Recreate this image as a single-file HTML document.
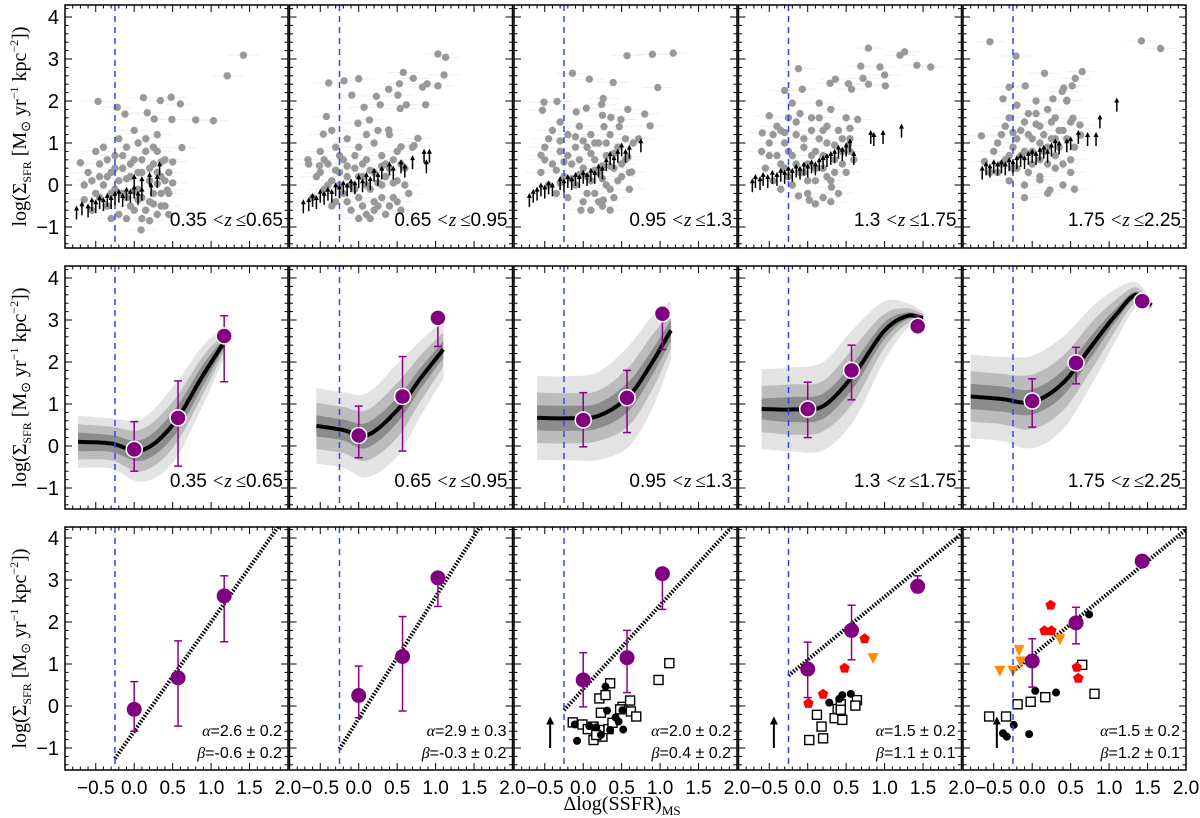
<!DOCTYPE html>
<html><head><meta charset="utf-8"><style>
html,body{margin:0;padding:0;background:#fff;}
svg{display:block;font-family:"Liberation Sans",sans-serif;}
.serif{font-family:"Liberation Serif",serif;}
</style></head><body>
<svg id="chart" width="1200" height="818" viewBox="0 0 1200 818" xmlns="http://www.w3.org/2000/svg"></svg>
<script>
// ---------- data ----------
const zLabels=["0.35","0.65","0.65","0.95","0.95","1.3","1.3","1.75","1.75","2.25"];
const xTicks=[-0.5,0.0,0.5,1.0,1.5,2.0];
const xTickLabels=["\u22120.5","0.0","0.5","1.0","1.5","2.0"];
const yTicks=[-1,0,1,2,3,4];
const yTickLabels=["\u22121","0","1","2","3","4"];
const msLine=-0.25;
// row 1 scatter (outliers + core)
const scat0=[[-0.70,0.53],[-0.47,1.99],[-0.22,1.85],[-0.12,1.69],[0.12,2.08],[0.34,2.01],[0.48,2.09],[0.6,1.93],[0.62,0.89],[0.5,0.05],[0.8,1.55],[1.03,1.53],[1.21,2.6],[1.42,3.09],[0.49,1.56],[0.26,1.57],[0.17,1.72],[0.43,-0.12],[0.09,-1.07],[0.3,0.03],
[-0.6,0.3],[-0.5,0.8],[-0.5,-0.2],[-0.45,0.5],[-0.4,0.0],[-0.4,0.9],[-0.35,-0.5],[-0.3,0.3],[-0.3,-0.2],[-0.25,0.7],[-0.2,1.1],[-0.2,0.1],[-0.2,-0.7],[-0.15,0.4],[-0.1,-0.3],[-0.1,0.9],[-0.05,0.2],[0.0,-0.6],[0.0,0.6],[0.0,1.3],[0.05,-0.1],[0.1,0.3],[0.1,-0.8],[0.15,0.8],[0.15,1.1],[0.2,-0.4],[0.2,0.1],[0.25,0.5],[0.3,-0.7],[0.3,0.8],[0.35,-0.2],[0.35,0.2],[0.4,0.6],[0.4,-0.5],[-0.55,-0.6],[-0.65,0.0],[-0.3,-0.8],[0.05,1.0],[0.45,-0.7],[0.3,1.2],[-0.1,-0.8],[0.25,-0.2],[0.45,0.3],[-0.35,0.6],
[-0.55,0.1],[-0.45,-0.3],[-0.35,0.2],[-0.25,-0.1],[-0.25,0.4],[-0.15,-0.2],[-0.15,0.7],[-0.05,-0.5],[-0.05,0.5],[0.05,0.3],[0.05,-0.35],[0.1,0.6],[0.15,-0.6],[0.2,0.4],[0.25,-0.45],[0.25,0.9],[0.3,0.3],[0.35,-0.5],[0.4,0.1],[0.45,-0.2],[0.5,0.55],[-0.65,-0.35],[-0.45,0.2],[0.0,-0.15],[0.1,-0.3],[0.2,-0.85],[0.35,0.55],[-0.1,0.15]];
const scat1=[[-0.39,2.43],[-0.19,2.48],[0.0,2.53],[-0.09,2.14],[0.23,2.11],[0.07,1.85],[0.28,1.91],[0.39,2.28],[0.53,2.41],[0.58,2.68],[0.71,2.54],[0.83,2.33],[0.89,2.41],[1.03,3.12],[1.13,3.04],[1.11,2.62],[1.03,2.36],[0.87,1.91],[0.51,2.14],[0.54,1.82],[0.62,1.91],[-0.42,1.63],[-0.46,1.21],[0.39,1.31],[0.77,1.11],[0.72,0.94],[0.55,0.91],[0.14,1.55],[-0.01,1.47],[-0.51,0.46],[-0.66,0.6],
[-0.6,-0.3],[-0.55,0.2],[-0.5,0.8],[-0.45,-0.1],[-0.4,0.5],[-0.35,0.1],[-0.3,-0.4],[-0.3,0.9],[-0.25,0.3],[-0.2,-0.2],[-0.2,0.6],[-0.15,1.1],[-0.1,0.0],[-0.1,-0.6],[-0.05,0.4],[0.0,0.9],[0.0,-0.3],[0.05,0.2],[0.1,-0.7],[0.1,0.6],[0.15,-0.1],[0.2,1.0],[0.2,0.3],[0.25,-0.5],[0.3,0.0],[0.3,0.7],[0.35,-0.7],[0.4,0.4],[0.4,1.2],[0.45,-0.3],[0.5,0.1],[0.5,0.8],[0.55,-0.6],[0.6,0.4],[0.65,-0.2],[-0.65,0.5],[0.15,-0.8],[0.25,1.3],[-0.35,1.3],[0.7,0.9],[0.0,-0.8],[0.2,-0.4],[0.35,0.2],[-0.15,0.45],
[-0.5,0.3],[-0.45,0.6],[-0.4,0.0],[-0.35,-0.5],[-0.25,0.0],[-0.25,0.7],[-0.15,-0.4],[-0.15,0.2],[-0.05,0.7],[-0.05,-0.1],[0.05,-0.5],[0.05,0.5],[0.1,1.2],[0.15,0.35],[0.2,-0.6],[0.25,0.05],[0.3,-0.3],[0.35,0.5],[0.4,-0.5],[0.45,0.05],[0.5,-0.4],[0.55,0.5],[0.6,0.0],[0.1,0.0],[0.3,0.45],[-0.3,0.35],[0.0,0.2],[0.45,0.6]];
const scat2=[[-0.14,2.66],[0.08,2.52],[0.39,2.44],[0.57,3.08],[0.9,3.11],[1.17,3.14],[0.97,2.32],[0.8,1.69],[0.87,1.41],[0.72,1.1],[0.58,1.8],[0.49,1.56],[0.63,0.31],[0.58,0.66],[-0.51,1.97],[-0.34,1.99],[-0.53,1.78],[-0.55,0.71],[-0.09,1.74],[0.04,1.83],[0.26,2.06],[0.24,1.92],[0.25,1.66],[0.27,1.39],[0.36,1.61],[0.47,1.39],[-0.03,-0.6],[0.26,-0.36],
[-0.55,0.3],[-0.5,0.9],[-0.45,0.0],[-0.4,1.3],[-0.4,0.5],[-0.35,-0.2],[-0.3,0.8],[-0.25,0.2],[-0.2,1.2],[-0.2,-0.3],[-0.15,0.5],[-0.1,0.9],[-0.1,0.0],[-0.05,1.4],[0.0,0.4],[0.0,-0.4],[0.05,0.9],[0.1,0.1],[0.1,1.2],[0.15,-0.2],[0.15,0.6],[0.2,0.3],[0.2,1.0],[0.25,-0.5],[0.3,0.7],[0.3,0.0],[0.35,1.2],[0.4,0.4],[0.4,-0.3],[0.45,0.9],[0.5,0.2],[0.55,0.6],[0.6,-0.1],[0.65,1.0],[-0.3,1.5],[0.1,-0.6],[0.35,-0.6],[-0.25,0.55],[0.25,0.15],
[-0.5,0.6],[-0.45,1.1],[-0.35,0.35],[-0.3,1.05],[-0.2,0.7],[-0.15,0.15],[-0.1,1.15],[-0.05,0.6],[0.0,1.05],[0.05,0.2],[0.05,-0.2],[0.1,0.75],[0.15,1.0],[0.2,-0.4],[0.25,0.45],[0.3,1.0],[0.35,-0.1],[0.4,0.75],[0.45,0.1],[0.5,0.5],[0.55,1.1],[0.6,0.3],[-0.3,0.05],[0.15,0.35],[-0.05,0.25],[0.35,0.45]];
const scat3=[[-0.12,2.77],[0.79,3.26],[1.2,3.09],[1.26,3.17],[1.42,2.85],[1.6,2.81],[0.69,2.83],[0.94,2.81],[1.0,2.62],[0.72,2.54],[0.79,2.4],[1.01,2.36],[0.36,2.52],[0.53,2.41],[0.57,2.28],[0.29,2.42],[-0.5,1.65],[-0.59,1.24],[-0.3,2.25],[-0.07,2.28],[0.65,1.56],[0.55,1.35],[0.53,0.95],[-0.12,-0.26],[0.02,-0.36],[0.31,-0.05],
[-0.55,0.4],[-0.5,1.0],[-0.45,0.1],[-0.4,0.7],[-0.4,1.4],[-0.35,-0.1],[-0.3,0.4],[-0.3,1.0],[-0.25,1.6],[-0.2,0.0],[-0.2,0.7],[-0.15,1.2],[-0.1,0.3],[-0.1,1.7],[-0.05,0.9],[0.0,-0.2],[0.0,0.5],[0.05,1.3],[0.1,0.1],[0.1,0.8],[0.15,1.6],[0.2,-0.3],[0.2,0.4],[0.25,1.0],[0.3,1.8],[0.3,0.1],[0.35,0.6],[0.4,1.3],[0.4,-0.2],[0.45,0.8],[0.5,0.3],[0.5,1.6],[0.55,1.1],[0.6,0.6],[-0.6,0.8],[0.1,-0.45],[0.3,-0.4],[-0.2,1.95],[0.15,1.95],
[-0.5,0.7],[-0.45,1.2],[-0.35,0.5],[-0.35,1.3],[-0.25,0.2],[-0.25,0.8],[-0.15,0.5],[-0.15,1.5],[-0.05,0.3],[-0.05,1.1],[0.05,0.7],[0.05,1.6],[0.1,0.4],[0.15,1.1],[0.2,0.7],[0.25,1.4],[0.25,0.2],[0.35,0.95],[0.35,0.3],[0.45,1.1],[0.45,0.5],[0.55,0.8],[0.0,0.1],[-0.3,1.25],[0.2,1.3]];
const scat4=[[-0.55,3.41],[-0.21,3.07],[1.42,3.43],[1.67,3.25],[0.16,2.66],[0.65,2.70],[0.56,2.54],[0.52,2.36],[0.41,2.31],[0.39,2.23],[0.27,2.05],[-0.09,2.36],[-0.3,2.33],[-0.38,2.05],[0.45,2.02],[0.63,1.19],[0.62,1.43],[0.53,1.59],[-0.66,1.17],[-0.62,0.56],[0.23,-0.12],[0.1,0.12],
[-0.5,0.8],[-0.45,0.3],[-0.4,1.2],[-0.35,0.6],[-0.3,1.6],[-0.3,0.1],[-0.25,0.9],[-0.2,1.9],[-0.2,0.4],[-0.15,1.3],[-0.1,0.0],[-0.1,0.8],[-0.05,1.7],[0.0,0.5],[0.0,1.1],[0.05,2.0],[0.1,0.2],[0.1,1.4],[0.15,0.8],[0.2,1.8],[0.2,-0.2],[0.25,1.1],[0.3,0.4],[0.3,1.6],[0.35,0.9],[0.4,0.0],[0.4,1.3],[0.45,2.0],[0.5,0.6],[0.5,1.5],[0.55,-0.1],[-0.55,0.3],[0.2,0.5],[-0.1,-0.3],[0.05,1.45],[-0.25,1.25],
[-0.45,1.0],[-0.4,0.5],[-0.35,1.4],[-0.25,0.4],[-0.2,1.1],[-0.15,0.7],[-0.1,1.5],[-0.05,0.3],[-0.05,1.2],[0.0,0.8],[0.05,1.7],[0.1,0.6],[0.15,1.2],[0.2,0.9],[0.25,1.5],[0.3,0.7],[0.35,1.3],[0.4,0.5],[0.45,1.1],[0.5,0.3],[0.55,0.9],[-0.3,0.7],[0.1,1.0],[0.3,1.1]];
const scatters=[scat0,scat1,scat2,scat3,scat4];
const arr0=[[-0.75,-0.75],[-0.68,-0.65],[-0.6,-0.7],[-0.55,-0.55],[-0.5,-0.6],[-0.45,-0.5],[-0.4,-0.55],[-0.35,-0.45],[-0.3,-0.5],[-0.25,-0.4],[-0.2,-0.35],[-0.15,-0.45],[-0.1,-0.3],[-0.05,-0.35],[0.0,-0.25],[0.05,-0.4],[0.1,-0.3],[0.0,0.0],[0.1,-0.05],[0.2,0.05],[0.3,0.0],[0.33,0.3],[0.22,-0.2]];
const arr1=[[-0.72,-0.6],[-0.65,-0.55],[-0.6,-0.45],[-0.55,-0.5],[-0.5,-0.35],[-0.45,-0.4],[-0.4,-0.3],[-0.35,-0.35],[-0.3,-0.2],[-0.25,-0.25],[-0.2,-0.15],[-0.15,-0.2],[-0.1,-0.1],[-0.05,-0.15],[0.0,0.0],[0.05,-0.1],[0.1,0.05],[0.15,-0.05],[0.2,0.15],[0.25,0.05],[0.3,0.2],[0.4,0.3],[0.45,0.2],[0.55,0.35],[0.6,0.25],[0.7,0.45],[0.85,0.6],[0.92,0.6],[0.88,0.35]];
const arr2=[[-0.7,-0.45],[-0.65,-0.35],[-0.6,-0.3],[-0.55,-0.2],[-0.5,-0.25],[-0.45,-0.15],[-0.4,-0.2],[-0.3,-0.05],[-0.25,-0.1],[-0.2,0.0],[-0.15,-0.05],[-0.1,0.05],[-0.05,0.0],[0.0,0.1],[0.05,0.05],[0.1,0.15],[0.15,0.1],[0.2,0.25],[0.25,0.2],[0.3,0.4],[0.35,0.55],[0.4,0.45],[0.45,0.6],[0.5,0.75],[0.55,0.6],[0.6,0.7],[0.75,0.85]];
const arr3=[[-0.72,-0.1],[-0.68,0.0],[-0.62,-0.05],[-0.58,0.05],[-0.52,0.0],[-0.46,0.1],[-0.4,0.05],[-0.35,0.15],[-0.3,0.1],[-0.25,0.2],[-0.2,0.15],[-0.15,0.25],[-0.1,0.2],[-0.05,0.3],[0.0,0.25],[0.05,0.35],[0.1,0.3],[0.15,0.4],[0.2,0.45],[0.25,0.5],[0.3,0.55],[0.35,0.6],[0.4,0.7],[0.45,0.65],[0.5,0.75],[0.6,0.55],[0.55,0.85],[0.82,1.05],[0.86,1.0],[0.98,1.05],[1.22,1.2]];
const arr4=[[-0.65,0.2],[-0.6,0.3],[-0.55,0.25],[-0.5,0.35],[-0.45,0.3],[-0.4,0.35],[-0.35,0.3],[-0.3,0.4],[-0.25,0.35],[-0.2,0.45],[-0.15,0.5],[-0.1,0.45],[-0.05,0.55],[0.0,0.6],[0.05,0.55],[0.1,0.65],[0.15,0.7],[0.2,0.6],[0.25,0.75],[0.3,0.85],[0.35,0.8],[0.45,0.85],[0.5,0.9],[0.6,1.05],[0.72,1.0],[0.83,1.0],[0.88,1.42],[1.1,1.82]];
const arrowsR1=[arr0,arr1,arr2,arr3,arr4];
// purple binned medians: x, y, lower, upper
const binX=[[0.0,0.57,1.17],[0.0,0.57,1.03],[0.0,0.57,1.03],[0.0,0.57,1.43],[0.0,0.57,1.43]];
const binY=[[-0.08,0.67,2.62],[0.25,1.18,3.05],[0.62,1.15,3.15],[0.88,1.8,2.85],[1.07,1.98,3.45]];
const binLo=[[-0.6,-0.48,1.53],[-0.28,-0.12,2.37],[-0.02,0.32,2.3],[0.2,1.1,2.7],[0.45,1.48,3.45]];
const binHi=[[0.58,1.55,3.1],[0.95,2.13,3.05],[1.27,1.8,3.15],[1.52,2.4,3.1],[1.6,2.35,3.45]];
// row 2 model bands
const bandX=[[-0.73,-0.3,0.1,0.5,0.9,1.18],[-0.55,-0.2,0.1,0.5,0.8,1.1],[-0.6,-0.2,0.2,0.6,0.9,1.14],[-0.6,-0.2,0.2,0.6,1.0,1.3,1.5],[-0.8,-0.4,0.0,0.4,0.8,1.1,1.35,1.55]];
const bandMed=[[0.1,0.06,-0.1,0.5,1.7,2.5],[0.48,0.38,0.25,0.85,1.6,2.3],[0.67,0.66,0.72,1.2,2.0,2.75],[0.88,0.87,0.95,1.7,2.75,3.1,3.05],[1.18,1.12,1.05,1.5,2.45,3.15,3.6,3.35]];
const bandW3=[[0.62,0.6,0.75,0.9,0.7,0.35],[0.9,0.9,1.0,1.1,0.9,0.7],[1.0,1.0,1.05,1.2,1.1,0.7],[0.95,1.0,1.05,1.1,0.7,0.3,0.15],[1.0,1.0,1.1,1.1,0.9,0.6,0.3,0.15]];
const bandW2=[[0.42,0.4,0.5,0.55,0.45,0.2],[0.55,0.55,0.6,0.65,0.55,0.4],[0.6,0.6,0.6,0.7,0.65,0.45],[0.55,0.6,0.6,0.65,0.4,0.18,0.1],[0.6,0.6,0.65,0.65,0.55,0.35,0.18,0.08]];
const bandW1=[[0.22,0.2,0.25,0.3,0.25,0.1],[0.25,0.25,0.3,0.3,0.25,0.2],[0.3,0.3,0.3,0.35,0.3,0.25],[0.25,0.3,0.3,0.3,0.2,0.08,0.05],[0.3,0.3,0.3,0.3,0.25,0.15,0.08,0.04]];
// row 3 fits and comparison samples
const alphas=["2.6","2.9","2.0","1.5","1.5"];const alphaErr=["0.2","0.3","0.2","0.2","0.2"];
const betas=["-0.6","-0.3","0.4","1.1","1.2"];const betaErr=["0.2","0.2","0.2","0.1","0.1"];
const alphaVal=[2.6,2.9,2.0,1.5,1.5];const betaVal=[-0.6,-0.3,0.4,1.1,1.2];
const sq2=[[-0.136,-0.39],[-0.01,-0.44],[0.134,-0.49],[0.06,-0.55],[0.21,-0.57],[0.25,-0.73],[0.134,-0.81],[0.17,-0.69],[0.33,-0.55],[0.38,-0.40],[0.51,-0.02],[0.48,-0.08],[0.61,0.13],[0.62,-0.13],[0.69,-0.25],[0.23,-0.16],[0.21,0.18],[0.29,0.26],[0.35,0.54],[0.98,0.62],[1.12,1.02]];
const dot2=[[-0.11,-0.44],[-0.08,-0.83],[0.08,-0.48],[0.17,-0.51],[0.29,0.46],[0.31,-0.11],[0.35,-0.57],[0.42,-0.27],[0.46,-0.37],[0.51,-0.10],[0.52,-0.56],[0.23,-0.69]];
const sq3=[[0.02,-0.81],[0.12,-0.21],[0.18,-0.49],[0.2,-0.77],[0.35,-0.29],[0.39,-0.07],[0.43,0.04],[0.45,-0.33],[0.43,-0.09],[0.64,0.14],[0.62,0.01]];
const dot3=[[0.28,0.08],[0.41,0.17],[0.45,0.26],[0.56,0.29]];
const pent3=[[0.01,0.06],[0.2,0.28],[0.48,0.90],[0.74,1.60]];
const tri3=[[0.85,1.14]];
const sq4=[[-0.56,-0.25],[-0.34,-0.25],[-0.19,0.04],[-0.02,0.10],[0.17,0.21],[0.65,0.98],[0.81,0.29]];
const dot4=[[-0.24,-0.45],[-0.38,-0.65],[-0.33,-0.73],[-0.04,-0.67],[0.04,0.36],[0.31,0.32],[0.74,2.18]];
const pent4=[[0.24,2.4],[0.16,1.79],[0.25,1.79],[0.58,0.92],[0.6,0.66]];
const tri4=[[-0.42,0.84],[-0.25,0.84],[-0.17,1.33],[-0.15,1.06],[0.36,1.59]];
const squares=[[],[],sq2,sq3,sq4];const dots=[[],[],dot2,dot3,dot4];
const pents=[[],[],[],pent3,pent4];const tris=[[],[],[],tri3,tri4];
const limArrowX=[null,null,-0.43,-0.44,-0.46];const limArrowY=[-1.0,-0.25];

// ---------- geometry ----------
const NS="http://www.w3.org/2000/svg";
const svg=document.getElementById('chart');
const L=[65,289.5,514,738.5,963],W=223,TOP=[5,266,527],H=243,BASE=[185,446,706];
const XMIN=-0.9,XMAX=2.0,YMIN=-1.5,YMAX=4.3;
function X(c,v){return L[c]+(v-XMIN)/(XMAX-XMIN)*W;}
function Y(r,v){return BASE[r]-42*v;}
function el(tag,attrs,parent){const e=document.createElementNS(NS,tag);for(const k in attrs)e.setAttribute(k,attrs[k]);(parent||svg).appendChild(e);return e;}
function interp(xs,ys,x){
  let i=0;while(i<xs.length-2&&x>xs[i+1])i++;
  const x0=xs[i],x1=xs[i+1],t=(x-x0)/(x1-x0);
  const m=k=>{if(k<=0)return (ys[1]-ys[0])/(xs[1]-xs[0]);if(k>=xs.length-1)return (ys[k]-ys[k-1])/(xs[k]-xs[k-1]);return (ys[k+1]-ys[k-1])/(xs[k+1]-xs[k-1]);};
  const h=x1-x0,t2=t*t,t3=t2*t;
  return (2*t3-3*t2+1)*ys[i]+(t3-2*t2+t)*h*m(i)+(-2*t3+3*t2)*ys[i+1]+(t3-t2)*h*m(i+1);
}
const defs=el('defs',{});
for(let r=0;r<3;r++)for(let c=0;c<5;c++){
  const cp=el('clipPath',{id:`clip${r}${c}`},defs);
  el('rect',{x:L[c],y:TOP[r],width:W,height:H},cp);
}

for(let r=0;r<3;r++){
  for(let c=0;c<5;c++){
    const g=el('g',{});
    
    
    const inner=el('g',{'clip-path':`url(#clip${r}${c})`},g);
    if(r===0){
      const sc=scatters[c];
      const eb=el('g',{},inner);
      
      
      sc.forEach(p=>{el('line',{x1:X(c,p[0]-0.2),x2:X(c,p[0]+0.2),y1:Y(r,p[1]),y2:Y(r,p[1]),stroke:'#f0f0f0','stroke-width':1},eb);});
      const sg=el('g',{},inner);
      
      
      sc.forEach(p=>{el('circle',{cx:X(c,p[0]),cy:Y(r,p[1]),r:3.7,fill:'#999'},sg);});
    }
    if(r===1){
      const bx=bandX[c],bm=bandMed[c];
      const levels=[[bandW3[c],'#e3e3e3'],[bandW2[c],'#bcbcbc'],[bandW1[c],'#8c8c8c']];
      const x0=bx[0],x1=bx[bx.length-1],N=60;
      levels.forEach(([wArr,col],li)=>{
        let up=[],lo=[];
        for(let k=0;k<=N;k++){const x=x0+(x1-x0)*k/N;const m=interp(bx,bm,x),w=interp(bx,wArr,x);up.push([X(c,x),Y(r,m+w)]);lo.push([X(c,x),Y(r,m-w)]);}
        const pts=up.concat(lo.reverse()).map(p=>p[0].toFixed(1)+','+p[1].toFixed(1)).join(' ');
        const b=el('polygon',{points:pts,fill:col},inner);
        
        
      });
      let d='';for(let k=0;k<=N;k++){const x=x0+(x1-x0)*k/N;d+=(k?'L':'M')+X(c,x).toFixed(1)+','+Y(r,interp(bx,bm,x)).toFixed(1);}
      const ml=el('path',{d:d,fill:'none',stroke:'#000','stroke-width':4},inner);
      
      
    }
    if(r===2){
      const a=alphaVal[c],b=betaVal[c];
      const fl=el('line',{x1:X(c,msLine),y1:Y(r,a*msLine+b),x2:X(c,XMAX),y2:Y(r,a*XMAX+b),stroke:'#000','stroke-width':4,'stroke-dasharray':'1.6,1.6'},inner);
      
      
      squares[c].forEach(p=>{const s=el('rect',{x:X(c,p[0])-4.5,y:Y(r,p[1])-4.5,width:9,height:9,fill:'#fff',stroke:'#000','stroke-width':1.4},inner);
        
        });
      dots[c].forEach(p=>{const s=el('circle',{cx:X(c,p[0]),cy:Y(r,p[1]),r:4,fill:'#000'},inner);
        
        });
      pents[c].forEach(p=>{const cx=X(c,p[0]),cy=Y(r,p[1]);let pts=[];for(let k=0;k<5;k++){const an=-Math.PI/2+k*2*Math.PI/5;pts.push((cx+5.5*Math.cos(an)).toFixed(1)+','+(cy+5.5*Math.sin(an)).toFixed(1));}
        const s=el('polygon',{points:pts.join(' '),fill:'#f00'},inner);
        
        });
      tris[c].forEach(p=>{const cx=X(c,p[0]),cy=Y(r,p[1]);
        const s=el('polygon',{points:`${cx-5.5},${cy-5} ${cx+5.5},${cy-5} ${cx},${cy+6}`,fill:'#ff8c00'},inner);
        
        });
      if(limArrowX[c]!==null){
        const ax=X(c,limArrowX[c]),ya=Y(r,limArrowY[0]),yb=Y(r,limArrowY[1]);
        const ag=el('g',{},inner);
        
        
        el('line',{x1:ax,y1:ya,x2:ax,y2:yb+6,stroke:'#000','stroke-width':2},ag);
        el('polygon',{points:`${ax-4},${yb+8} ${ax+4},${yb+8} ${ax},${yb}`,fill:'#000'},ag);
      }
    }
    const ms=el('line',{x1:X(c,msLine),x2:X(c,msLine),y1:TOP[r],y2:TOP[r]+H,stroke:'#3344ff','stroke-width':1.5,'stroke-dasharray':'6,5'},inner);
    
    
    if(r===0){
      const ag=el('g',{},inner);
      
      
      arrowsR1[c].forEach(p=>{const ax=X(c,p[0]),ay=Y(r,p[1]);
        el('line',{x1:ax,y1:ay+3,x2:ax,y2:ay-8,stroke:'#000','stroke-width':1.5},ag);
        el('polygon',{points:`${ax-2.5},${ay-6} ${ax+2.5},${ay-6} ${ax},${ay-11}`,fill:'#000'},ag);});
    }
    if(r>=1){
      const bg=el('g',{},inner);
      
      
      binX[c].forEach((x,i)=>{const cx=X(c,x);
        if(binHi[c][i]!==binLo[c][i]){
          el('line',{x1:cx,x2:cx,y1:Y(r,binLo[c][i]),y2:Y(r,binHi[c][i]),stroke:'#8b008b','stroke-width':1.5},bg);
          [binLo[c][i],binHi[c][i]].forEach(v=>{if(v!==binY[c][i])el('line',{x1:cx-4,x2:cx+4,y1:Y(r,v),y2:Y(r,v),stroke:'#8b008b','stroke-width':1.5},bg);});
        }
        const pt=el('circle',{cx:cx,cy:Y(r,binY[c][i]),r:r===1?8:7.5,fill:'#800080',stroke:r===1?'#fff':'none','stroke-width':1.5},bg);
        
        
      });
    }
    el('rect',{x:L[c],y:TOP[r],width:W,height:H,fill:'none',stroke:'#000','stroke-width':1.5},g);
    const tk=el('g',{stroke:'#000','stroke-width':1},g);
    
    
    for(let k=-9;k<=20;k++){const v=k/10,x=X(c,v);const maj=(k%5===0);const len=maj?7:3.5;
      el('line',{x1:x,x2:x,y1:TOP[r],y2:TOP[r]+len},tk);el('line',{x1:x,x2:x,y1:TOP[r]+H,y2:TOP[r]+H-len},tk);}
    for(let k=-7;k<=21;k++){const v=k/5,y=Y(r,v);const maj=(k%5===0);const len=maj?7:3.5;
      el('line',{x1:L[c],x2:L[c]+len,y1:y,y2:y},tk);el('line',{x1:L[c]+W,x2:L[c]+W-len,y1:y,y2:y},tk);}
    if(r<2){
      const t=el('text',{x:L[c]+W-5,y:TOP[r]+H-22,'text-anchor':'end','font-size':19},g);
      
      
      t.innerHTML=`${zLabels[2*c]}<tspan font-family="Liberation Serif" font-style="italic"> &lt;z&#8201;&#8804;</tspan>${zLabels[2*c+1]}`;
    } else {
      const ta=el('text',{x:L[c]+W-6,y:TOP[r]+H-34,'text-anchor':'end','font-size':16},g);
      
      
      ta.innerHTML=`<tspan font-family="Liberation Serif" font-style="italic">\u03b1</tspan>=${alphas[c]} \u00b1 ${alphaErr[c]}`;
      const tb=el('text',{x:L[c]+W-6,y:TOP[r]+H-12,'text-anchor':'end','font-size':16},g);
      
      
      tb.innerHTML=`<tspan font-family="Liberation Serif" font-style="italic">\u03b2</tspan>=${betas[c]} \u00b1 ${betaErr[c]}`;
      xTicks.forEach((v,i)=>{const t=el('text',{x:X(c,v),y:TOP[r]+H+24,'text-anchor':'middle','font-size':19},g);
        
        
        t.textContent=xTickLabels[i];});
    }
    if(c===0){
      yTicks.forEach((v,i)=>{const t=el('text',{x:L[0]-6,y:Y(r,v)+7,'text-anchor':'end','font-size':20},g);
        
        
        t.textContent=yTickLabels[i];});
    }
  }
  const yt=el('text',{transform:`translate(26,${TOP[r]+H/2}) rotate(-90)`,'text-anchor':'middle','font-size':20,class:'serif'});
  
  
  yt.innerHTML='log(\u03a3<tspan font-size="12" dy="5">SFR</tspan><tspan dy="-5"> [M</tspan><tspan font-size="13" dy="4">\u2299</tspan><tspan dy="-4"> yr</tspan><tspan font-size="12" dy="-8">\u22121</tspan><tspan dy="8"> kpc</tspan><tspan font-size="12" dy="-8">\u22122</tspan><tspan dy="8">])</tspan>';
}
const xt=el('text',{x:622,y:810,'text-anchor':'middle','font-size':20,class:'serif'});


xt.innerHTML='\u0394log(SSFR)<tspan font-size="13" dy="5">MS</tspan>';
</script>
</body></html>
